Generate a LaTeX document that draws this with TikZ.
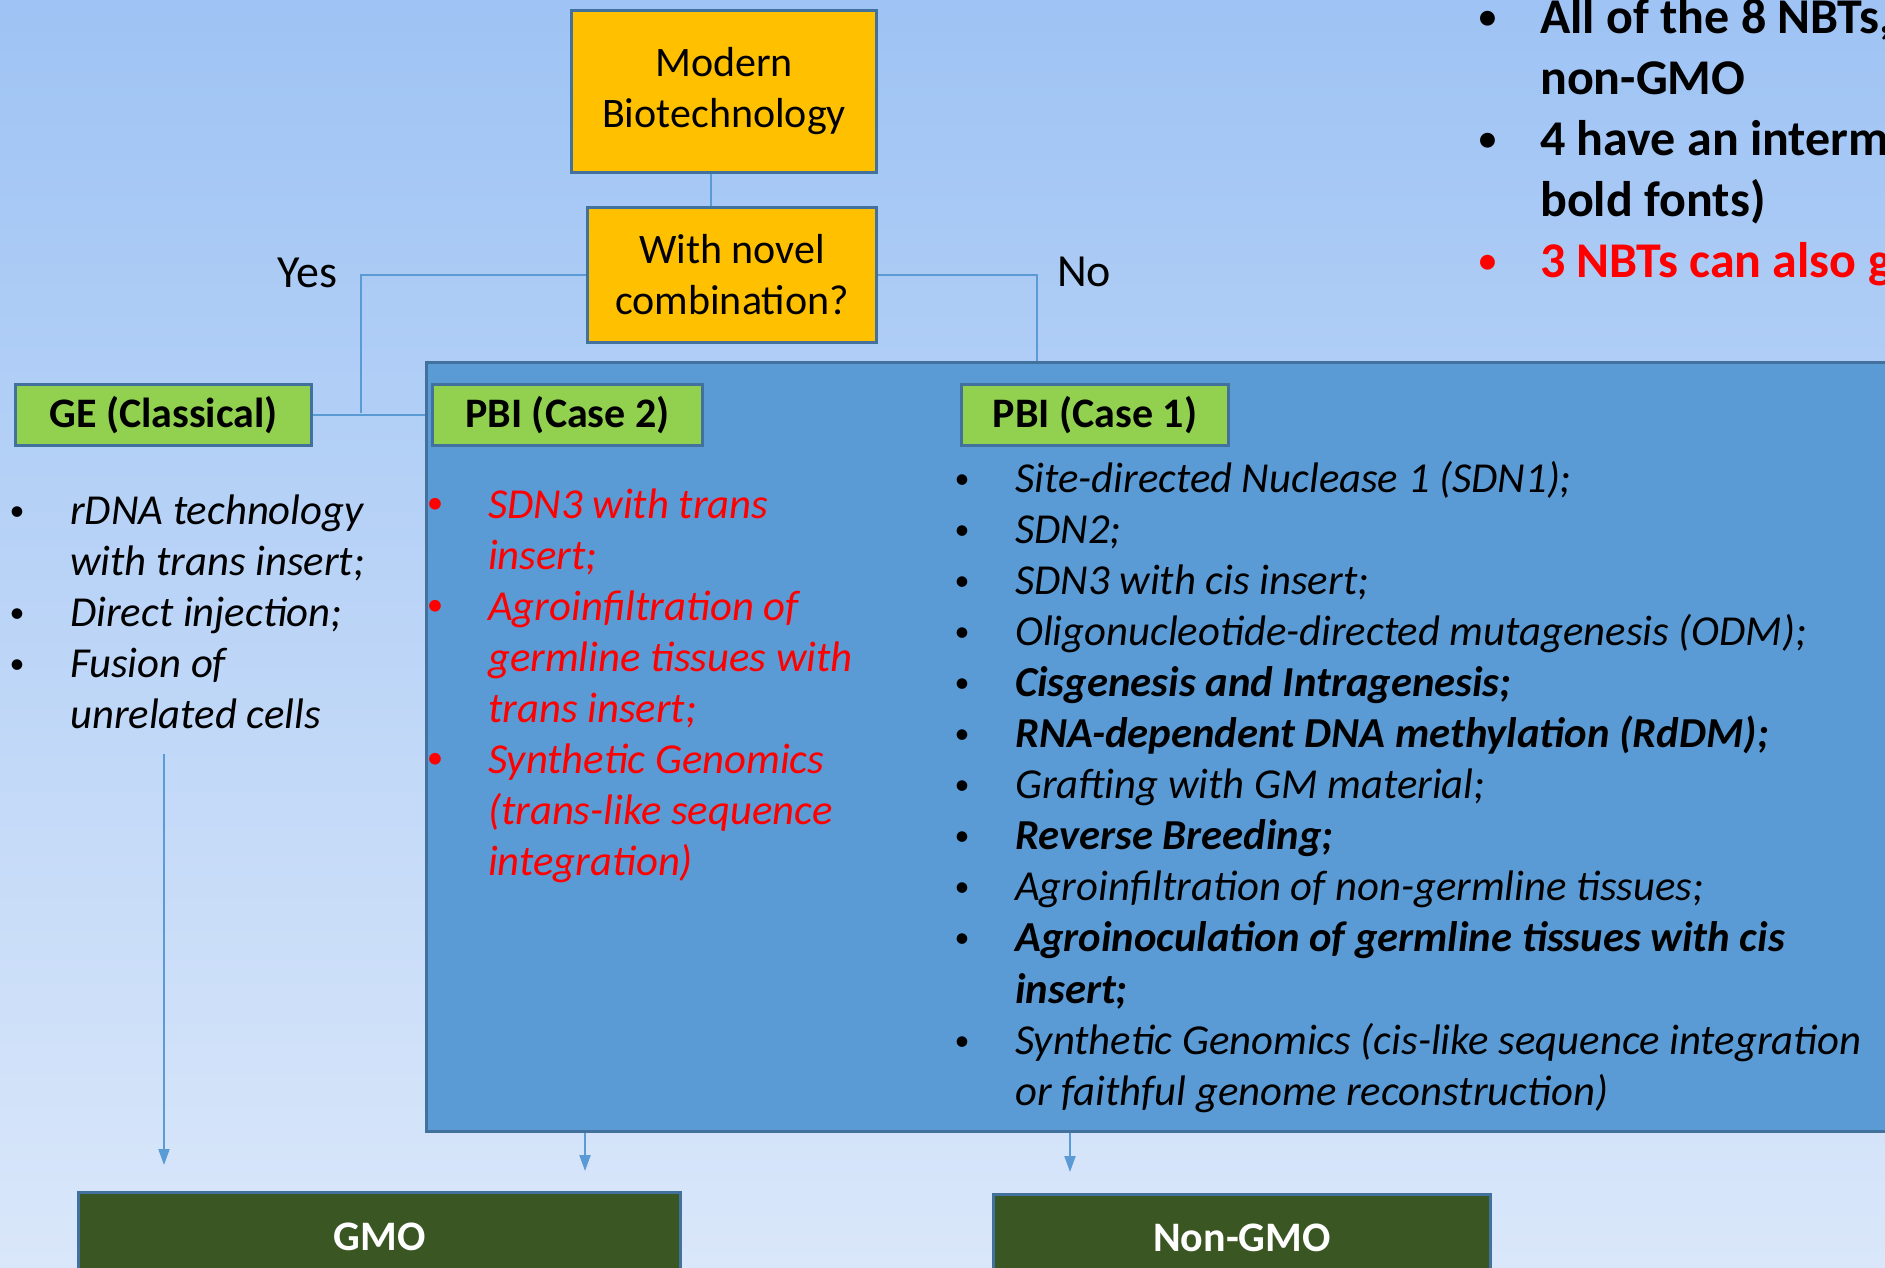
\documentclass[tikz,border=0pt]{standalone}
\usepackage{fontspec}
\setmainfont{Carlito}
\usetikzlibrary{arrows.meta}
\definecolor{bgtop}{RGB}{158,195,244}
\definecolor{bgbot}{RGB}{218,231,250}
\definecolor{bigfill}{RGB}{91,155,213}
\definecolor{edge}{RGB}{65,113,156}
\definecolor{amber}{RGB}{255,192,0}
\definecolor{leaf}{RGB}{146,208,80}
\definecolor{forest}{RGB}{58,87,35}
\definecolor{wire}{RGB}{91,155,213}
\definecolor{alert}{RGB}{255,0,0}
% bullet: #1 = size, #2 = raise; centred on the column start
\newcommand{\dotmark}[2]{\makebox[0pt]{\raisebox{#2}{\upshape\mdseries\fontsize{#1}{#1}\selectfont •}}}
\begin{document}
\begin{tikzpicture}[x=1pt,y=-1pt,
  amberbox/.style={draw=edge, fill=amber, line width=3pt, align=center, inner sep=0pt, font={\fontsize{42}{51}\selectfont}},
  leafbox/.style={draw=edge, fill=leaf, line width=3pt, inner sep=0pt, anchor=north west, minimum height=61pt, font={\bfseries\fontsize{42}{51}\selectfont}},
  forestbox/.style={draw=edge, fill=forest, line width=3pt, inner sep=0pt, anchor=north west, text=white, font={\bfseries\fontsize{42}{51}\selectfont}},
  panel/.style={draw=edge, fill=bigfill, line width=3pt, inner sep=0pt, anchor=north west},
  wirestyle/.style={draw=wire, line width=2pt},
  arrowline/.style={wirestyle, -{Triangle[length=16pt,width=11pt]}},
  listnode/.style={inner sep=0pt, anchor=base west, font={\itshape\fontsize{42.7}{51.1}\selectfont}},
  notes/.style={inner sep=0pt, anchor=base west, font={\bfseries\fontsize{50}{61}\selectfont}},
  answer/.style={inner sep=0pt, anchor=base west, font={\fontsize{46}{55}\selectfont}}
]
\useasboundingbox (0,0) rectangle (1885,1267);
\clip (0,0) rectangle (1885,1267);
\shade[top color=bgtop, bottom color=bgbot] (0,0) rectangle (1885,1267);

% big panel
\node[panel, minimum width=1500pt, minimum height=769pt] (big) at (425,361) {};

% decision boxes
\node[amberbox, anchor=north west, minimum width=305pt, minimum height=162pt] (modern) at (570,9) {Modern\\Biotechnology};
\node[amberbox, anchor=north west, minimum width=289pt, minimum height=135pt] (novel) at (586,206) {With novel\\combination?};

% category boxes
\node[leafbox, minimum width=296pt] (ge) at (14,383) {GE (Classical)};
\node[leafbox, minimum width=270pt] (case2) at (431,383) {PBI (Case 2)};
\node[leafbox, minimum width=267pt] (case1) at (960,383) {PBI (Case 1)};

% outcome boxes
\node[forestbox, minimum width=602pt, minimum height=89pt] (gmo) at (77,1191) {GMO};
\node[forestbox, minimum width=497pt, minimum height=87pt] (nongmo) at (992,1193) {Non-GMO};

% labels
\node[answer] (yes) at (277,287) {Yes};
\node[answer] (no) at (1057,286) {No};

% connectors
\coordinate (nx) at (711,0);
\coordinate (yesdrop) at (361,413);
\coordinate (nodrop) at (1037,361);
\draw[wirestyle] (modern.south -| nx) -- (novel.north -| nx);
\draw[wirestyle] (novel.west) -| (yesdrop);
\draw[wirestyle] (ge.east) -- (ge.east -| big.west);
\draw[wirestyle] (novel.east) -| (nodrop);

\coordinate (gestart) at (164,754);
\coordinate (geend) at (164,1165);
\coordinate (c2end) at (585,1171);
\coordinate (c1end) at (1070,1172);
\draw[arrowline] (gestart) -- (geend);
\draw[arrowline] (big.south -| c2end) -- (c2end);
\draw[arrowline] (big.south -| c1end) -- (c1end);

% lists
\node[listnode] (gelist) at (17,524) {\begin{tabular}[t]{@{}p{53pt}@{}l@{}}
\dotmark{30}{4pt} & rDNA technology\\
  & with trans insert;\\
\dotmark{30}{4pt} & Direct injection;\\
\dotmark{30}{4pt} & Fusion of\\
  & unrelated cells
\end{tabular}};

\node[listnode, text=alert] (c2list) at (435,518) {\begin{tabular}[t]{@{}p{53pt}@{}l@{}}
\dotmark{33}{5pt} & SDN3 with trans\\
  & insert;\\
\dotmark{33}{5pt} & Agroinfiltration of\\
  & germline tissues with\\
  & trans insert;\\
\dotmark{33}{5pt} & Synthetic Genomics\\
  & (trans-like sequence\\
  & integration)
\end{tabular}};

\node[listnode] (c1list) at (962,492) {\begin{tabular}[t]{@{}p{53pt}@{}l@{}}
\dotmark{30}{4pt} & Site-directed Nuclease 1 (SDN1);\\
\dotmark{30}{4pt} & SDN2;\\
\dotmark{30}{4pt} & SDN3 with cis insert;\\
\dotmark{30}{4pt} & Oligonucleotide-directed mutagenesis (ODM);\\
\dotmark{30}{4pt} & \textbf{Cisgenesis and Intragenesis;}\\
\dotmark{30}{4pt} & \textbf{RNA-dependent DNA methylation (RdDM);}\\
\dotmark{30}{4pt} & Grafting with GM material;\\
\dotmark{30}{4pt} & \textbf{Reverse Breeding;}\\
\dotmark{30}{4pt} & Agroinfiltration of non-germline tissues;\\
\dotmark{30}{4pt} & \textbf{Agroinoculation of germline tissues with cis}\\
  & \textbf{insert;}\\
\dotmark{30}{4pt} & Synthetic Genomics (cis-like sequence integration\\
  & or faithful genome reconstruction)
\end{tabular}};

\node[notes] (notelist) at (1488,33) {\begin{tabular}[t]{@{}p{52pt}@{}l@{}}
\dotmark{42}{3pt} & All of the 8 NBTs,\\
  & non-GMO\\
\dotmark{42}{3pt} & 4 have an interm\\
  & bold fonts)\\
\textcolor{alert}{\dotmark{42}{3pt}} & \textcolor{alert}{3 NBTs can also g}
\end{tabular}};
\end{tikzpicture}
\end{document}
